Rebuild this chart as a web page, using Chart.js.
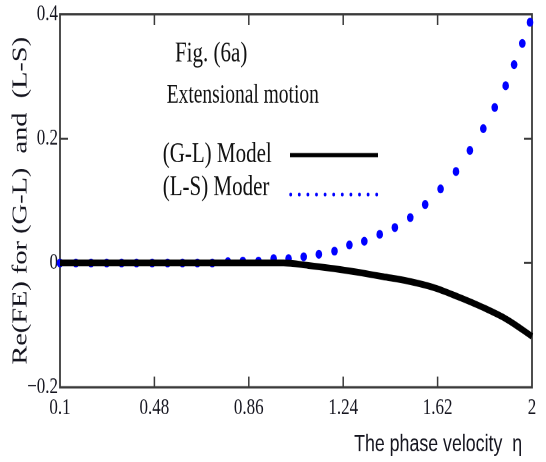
<!DOCTYPE html>
<html>
<head>
<meta charset="utf-8">
<script src="https://cdn.jsdelivr.net/npm/chart.js@4.4.1/dist/chart.umd.min.js"></script>
<style>
  html, body { margin: 0; padding: 0; background: #fff; }
  #page { position: relative; width: 546px; height: 462px; overflow: visible; }
  /* the figure is drawn a bit squashed and stretched back up, like the scanned original */
  #wrap { position: absolute; left: 0; top: 0; width: 546px; height: 342px;
          transform: scaleY(1.351); transform-origin: 0 0; }
</style>
</head>
<body>
<div id="page"><div id="wrap"><canvas id="myChart" width="546" height="342"></canvas></div></div>
<script>
// (G-L) model, solid curve
var etaGL = [0.1, 0.2, 0.3, 0.4, 0.5, 0.6, 0.7, 0.8, 0.9, 1.0,
             1.1, 1.2, 1.3, 1.4, 1.5, 1.6, 1.7, 1.8, 1.9, 2.0];
var reGL = [0, 0, 0, 0, 0, 0, 0, 0, 0, 0,
            -0.004, -0.009, -0.015, -0.022, -0.029, -0.039, -0.054, -0.071, -0.091, -0.118];

// (L-S) model, dotted trace (one value per dot)
var etaLS = [0.100, 0.164, 0.225, 0.288, 0.348, 0.408, 0.471, 0.533, 0.593, 0.653,
             0.713, 0.776, 0.836, 0.899, 0.960, 1.020, 1.081, 1.142, 1.205, 1.265,
             1.325, 1.387, 1.448, 1.510, 1.570, 1.632, 1.694, 1.750, 1.804, 1.850,
             1.894, 1.928, 1.961, 1.992];
var reLS = [0, 0, 0, 0, 0, 0, 0, 0, 0, 0,
            0, 0.002, 0.003, 0.003, 0.007, 0.007, 0.010, 0.014, 0.019, 0.029,
            0.035, 0.046, 0.057, 0.073, 0.094, 0.119, 0.147, 0.181, 0.216, 0.250,
            0.285, 0.319, 0.353, 0.387];

var xTicks = [0.1, 0.48, 0.86, 1.24, 1.62, 2];
var yTicks = [-0.2, 0, 0.2, 0.4];

function toPoints(xs, ys) {
  return xs.map(function (x, i) { return { x: x, y: ys[i] }; });
}

var framePlugin = {
  id: 'frame',
  beforeDatasetsDraw: function (chart) {
    var a = chart.chartArea;
    var ctx = chart.ctx;
    var xs = chart.scales.x;
    var ys = chart.scales.y;
    ctx.save();
    ctx.strokeStyle = '#3a3a3a';
    ctx.lineWidth = 1.8;
    ctx.strokeRect(a.left, a.top, a.right - a.left, a.bottom - a.top);
    // tick marks point inwards on all four sides
    ctx.lineWidth = 1.5;
    ctx.beginPath();
    xTicks.slice(1, -1).forEach(function (v) {
      var px = xs.getPixelForValue(v);
      ctx.moveTo(px, a.bottom);
      ctx.lineTo(px, a.bottom - 8);
      ctx.moveTo(px, a.top);
      ctx.lineTo(px, a.top + 8);
    });
    yTicks.slice(1, -1).forEach(function (v) {
      var py = ys.getPixelForValue(v);
      ctx.moveTo(a.left, py);
      ctx.lineTo(a.left + 8, py);
      ctx.moveTo(a.right, py);
      ctx.lineTo(a.right - 8, py);
    });
    ctx.stroke();
    ctx.restore();
  }
};

var notesPlugin = {
  id: 'notes',
  afterDraw: function (chart) {
    var ctx = chart.ctx;
    var sets = chart.data.datasets;
    ctx.save();
    ctx.fillStyle = '#111';
    ctx.textBaseline = 'alphabetic';
    ctx.font = '21px "Liberation Serif"';
    ctx.fillText('Fig. (6a)', 175, 45.7);
    ctx.font = '19.5px "Liberation Serif"';
    ctx.fillText('Extensional motion', 166.7, 76);

    ctx.font = '21px "Liberation Serif"';
    ctx.fillText(sets[0].label, 162.7, 119.8);
    ctx.fillText(sets[1].label, 162.7, 144.4);

    // legend samples
    ctx.strokeStyle = sets[0].borderColor;
    ctx.lineWidth = 3.2;
    ctx.beginPath();
    ctx.moveTo(290, 114.8);
    ctx.lineTo(378, 114.8);
    ctx.stroke();

    ctx.strokeStyle = sets[1].pointBackgroundColor;
    ctx.lineWidth = 2.8;
    ctx.lineCap = 'round';
    ctx.setLineDash([0, 8.6]);
    ctx.beginPath();
    ctx.moveTo(290.7, 144);
    ctx.lineTo(377.5, 144);
    ctx.stroke();
    ctx.restore();
  }
};

var canvas = document.getElementById('myChart');
var myChart = new Chart(canvas.getContext('2d'), {
  type: 'scatter',
  data: {
    datasets: [
      {
        label: '(G-L) Model',
        data: toPoints(etaGL, reGL),
        showLine: true,
        borderColor: '#000000',
        borderWidth: 5,
        pointRadius: 0,
        cubicInterpolationMode: 'monotone',
        clip: false
      },
      {
        label: '(L-S) Moder',
        data: toPoints(etaLS, reLS),
        showLine: false,
        pointRadius: 3.3,
        pointBorderWidth: 0,
        pointBackgroundColor: '#0000ff',
        pointBorderColor: '#0000ff',
        clip: false
      }
    ]
  },
  options: {
    responsive: false,
    animation: false,
    devicePixelRatio: 2,
    layout: { padding: { top: 8.9, right: 14, left: 0, bottom: 0 } },
    plugins: {
      legend: { display: false },
      tooltip: { enabled: false }
    },
    scales: {
      x: {
        type: 'linear',
        min: 0.1,
        max: 2,
        grid: { display: false, drawTicks: false },
        border: { display: false },
        afterBuildTicks: function (scale) {
          scale.ticks = xTicks.map(function (v) { return { value: v }; });
        },
        afterFit: function (scale) { scale.height = 55.3; },
        ticks: {
          padding: 5,
          color: '#15151f',
          font: { family: 'Liberation Serif', size: 17 },
          maxRotation: 0,
          autoSkip: false,
          callback: function (v) { return String(v); }
        },
        title: {
          display: true,
          text: 'The phase velocity  \u03b7  ',
          align: 'end',
          color: '#15151f',
          font: { family: 'Liberation Sans', size: 17.8 },
          padding: { top: 0, bottom: 2 }
        }
      },
      y: {
        type: 'linear',
        min: -0.2,
        max: 0.4,
        grid: { display: false, drawTicks: false },
        border: { display: false },
        afterBuildTicks: function (scale) {
          scale.ticks = yTicks.map(function (v) { return { value: v }; });
        },
        afterFit: function (scale) { scale.width = 60; },
        ticks: {
          padding: 2,
          color: '#15151f',
          font: { family: 'Liberation Serif', size: 17, lineHeight: 1 },
          callback: function (v) {
            var r = Math.round(v * 10) / 10;
            return r < 0 ? '\u2212' + Math.abs(r) : String(r);
          }
        },
        title: {
          display: true,
          text: 'Re(FE) for (G-L)  and  (L-S)',
          color: '#15151f',
          font: { family: 'Liberation Serif', size: 21 },
          padding: { top: 8.5, bottom: 0 }
        }
      }
    }
  },
  plugins: [framePlugin, notesPlugin]
});
</script>
</body>
</html>
